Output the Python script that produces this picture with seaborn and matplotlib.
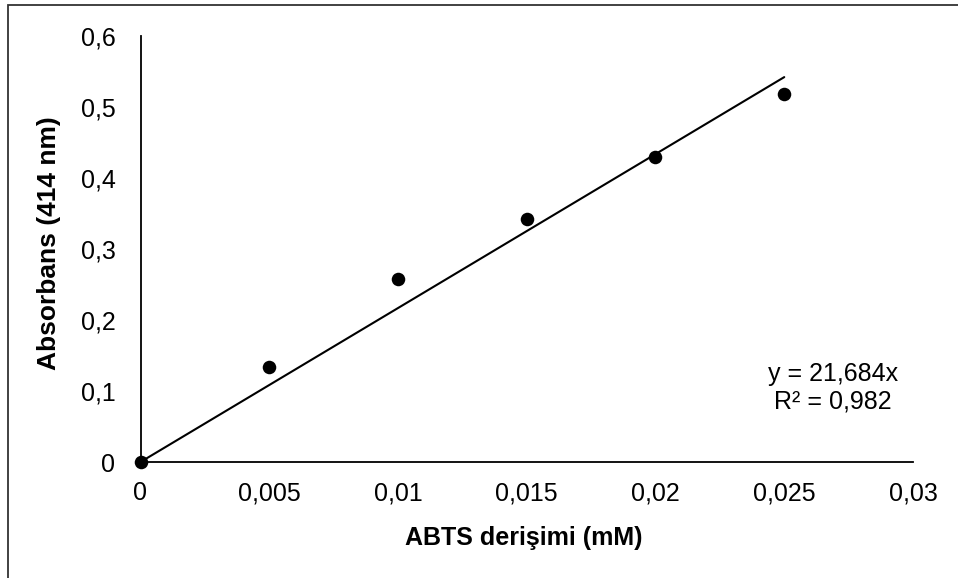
import matplotlib
matplotlib.use("Agg")
import matplotlib.pyplot as plt
import seaborn as sns
import numpy as np
import pandas as pd
from matplotlib.patches import Rectangle
from matplotlib.ticker import FuncFormatter

# Data
conc = [0.0, 0.005, 0.01, 0.015, 0.02, 0.025]
absorb = [0.0, 0.134, 0.258, 0.342, 0.429, 0.518]
slope = 21.684
r2 = 0.982
x_ticks = [0, 0.005, 0.01, 0.015, 0.02, 0.025, 0.03]
y_ticks = [0, 0.1, 0.2, 0.3, 0.4, 0.5, 0.6]
x_label = "ABTS derişimi (mM)"
y_label = "Absorbans (414 nm)"

sns.set_theme(style="white")
plt.rcParams['font.family'] = ['Liberation Sans', 'DejaVu Sans']

W, H = 958, 578
L, R, B, T = 140.5, 913, 462, 36
fig = plt.figure(figsize=(W / 100, H / 100), dpi=100)
ax = fig.add_axes([L / W, 1 - B / H, (R - L) / W, (B - T) / H])

df = pd.DataFrame({"x": conc, "y": absorb})
fit = pd.DataFrame({"x": [0.0, conc[-1]], "y": [0.0, slope * conc[-1]]})
sns.lineplot(data=fit, x="x", y="y", ax=ax, color="black", linewidth=1.5, zorder=2)
sns.scatterplot(data=df, x="x", y="y", ax=ax, color="black", s=95, edgecolor="black",
                linewidth=0, zorder=3, clip_on=False)

ax.set_xlim(0, 0.03)
ax.set_ylim(0, 0.6)
ax.set_xticks(x_ticks)
ax.set_yticks(y_ticks)
fmt = FuncFormatter(lambda v, p: ("%g" % round(v, 4)).replace(".", ","))
ax.xaxis.set_major_formatter(fmt)
ax.yaxis.set_major_formatter(fmt)
ax.tick_params(axis="both", length=0, labelsize=18, colors="black")
ax.tick_params(axis="x", pad=14)
ax.tick_params(axis="y", pad=18)
for s in ["top", "right"]:
    ax.spines[s].set_visible(False)
for s in ["left", "bottom"]:
    ax.spines[s].set_color("black")
    ax.spines[s].set_linewidth(1.3)
ax.grid(False)

ax.set_xlabel(x_label, fontsize=18, fontweight="bold", color="black")
ax.set_ylabel(y_label, fontsize=19, fontweight="bold", color="black")
ax.xaxis.label.set_va("center")
ax.yaxis.label.set_va("center")
ax.xaxis.set_label_coords((524 - L) / (R - L), -(538 - B) / (B - T))
ax.yaxis.set_label_coords(-(L - 49) / (R - L), (B - 243) / (B - T))

ax.text(833 / W, 1 - 374 / H, "y = 21,684x", transform=fig.transFigure,
        ha="center", va="center", fontsize=18, color="black")
ax.text(833 / W, 1 - 401 / H, "R² = 0,982", transform=fig.transFigure,
        ha="center", va="center", fontsize=18, color="black")

# outer frame (left and top edges visible)
fig.patches.append(Rectangle((8 / W, -0.1), 1.5, 1.1 - 5.5 / H, transform=fig.transFigure,
                             fill=False, edgecolor="#333333", linewidth=1.3, figure=fig))

fig.savefig("out.png", dpi=100, facecolor="white")
